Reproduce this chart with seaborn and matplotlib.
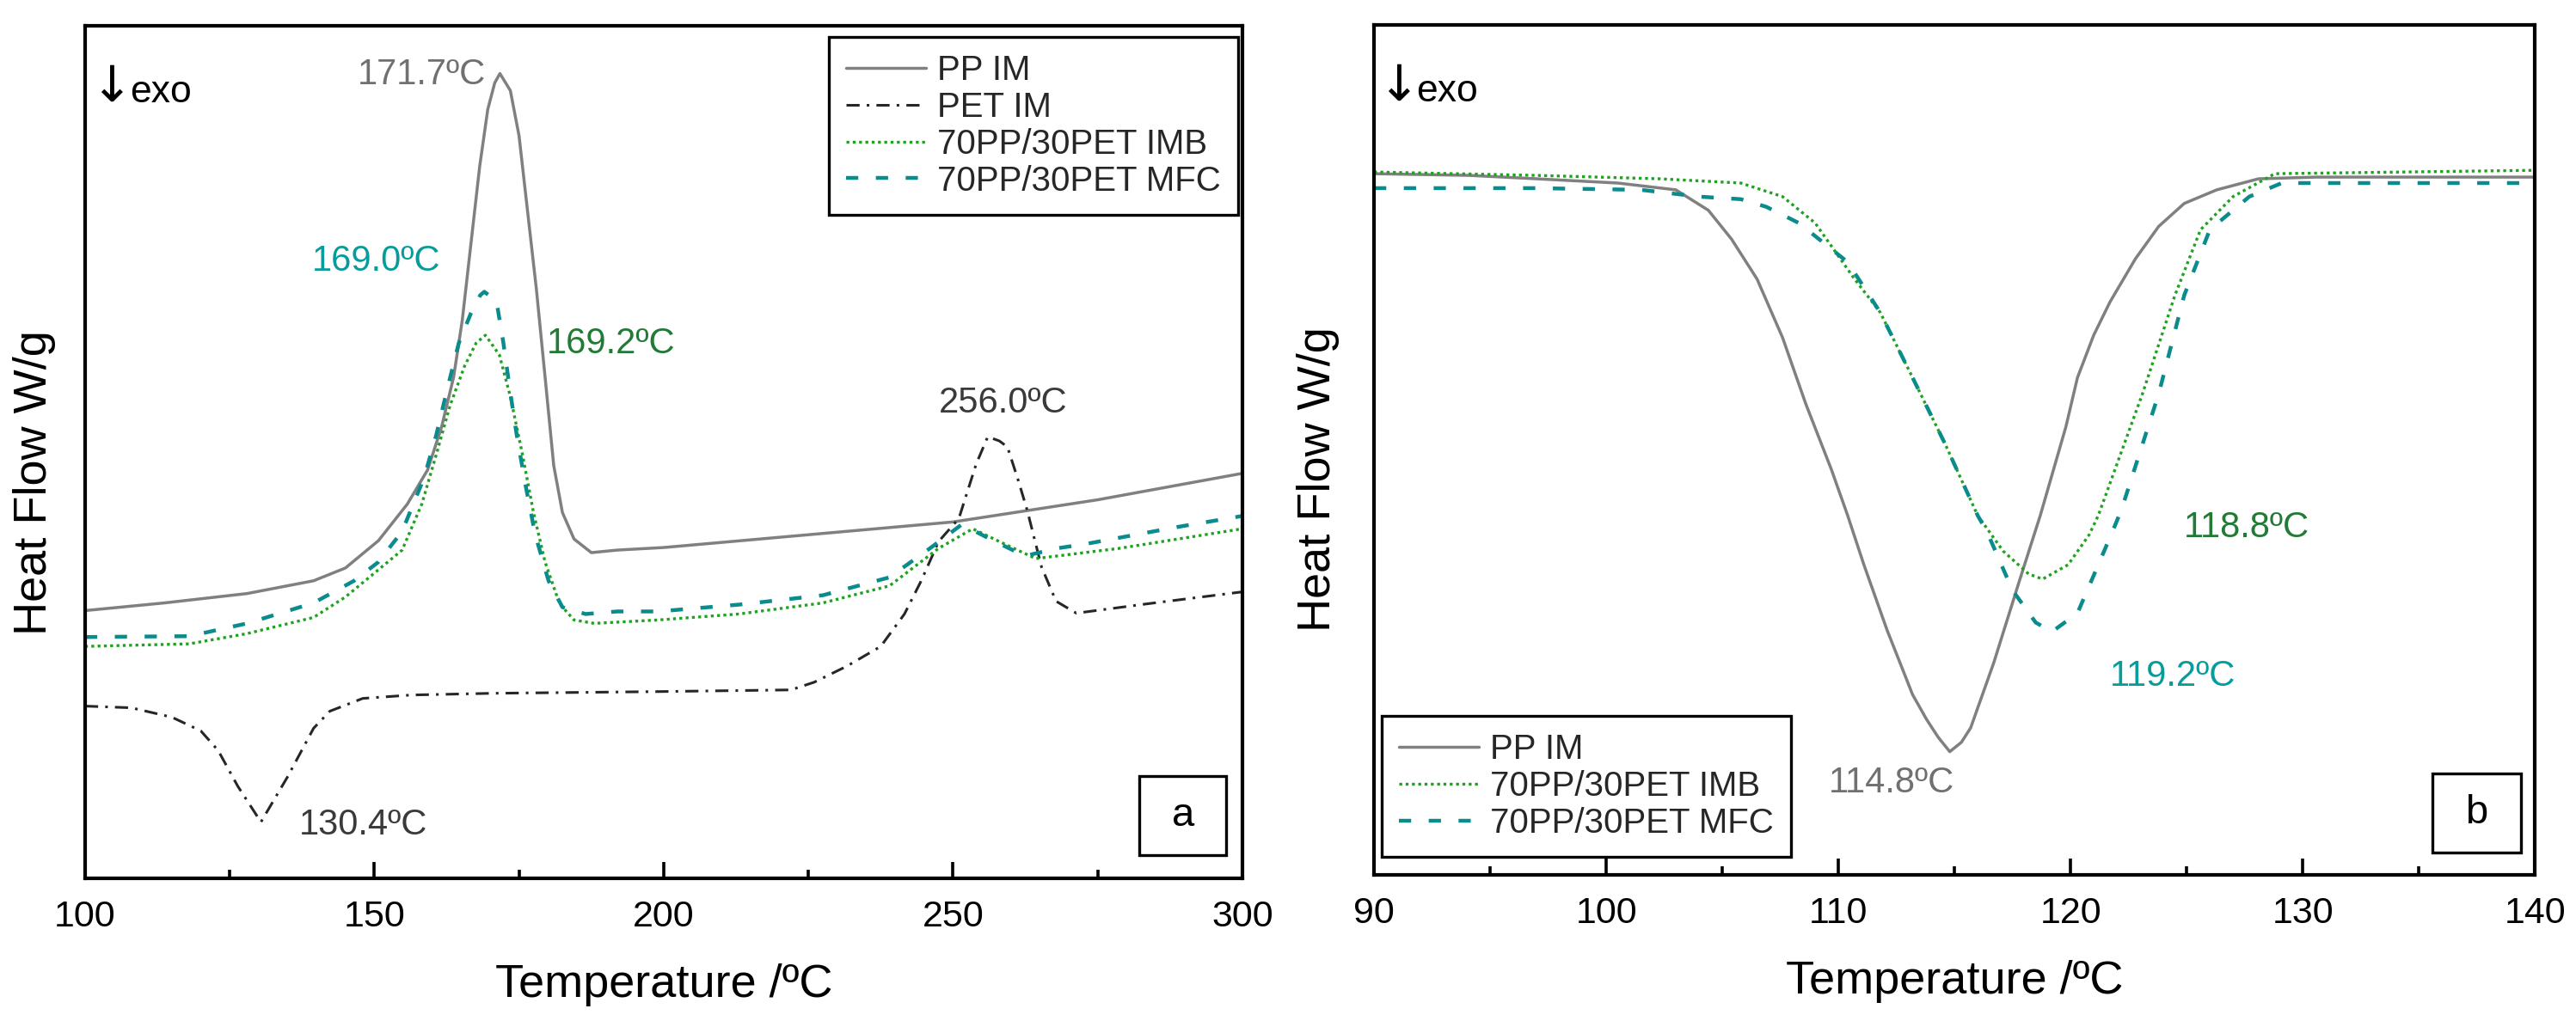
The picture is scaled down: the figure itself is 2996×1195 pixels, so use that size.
import matplotlib
matplotlib.use("Agg")
import matplotlib.pyplot as plt
import matplotlib.patches as mpatches
from matplotlib.ticker import MultipleLocator
import seaborn as sns
import pandas as pd

# ---- panel a: heating scans (arbitrary heat-flow units, exo down) ----
pp_a_t = [100, 113.7, 128, 139.5, 145, 150.7, 155.7, 159.2, 161.6, 163.7, 165.2, 166.7,
          168.2, 169.6, 170.8, 171.7, 173.5, 175.0, 176.5, 178.0, 179.5, 181.0, 182.5,
          184.5, 187.5, 192, 200, 225, 250, 275, 300]
pp_a_v = [31.4, 32.3, 33.4, 34.9, 36.4, 39.6, 43.9, 47.9, 52.9, 58.8, 65.5, 74.5,
          83.5, 90.2, 93.3, 94.4, 92.4, 87.1, 78.1, 69.1, 58.8, 48.4, 42.9,
          39.8, 38.2, 38.5, 38.8, 40.3, 41.8, 44.4, 47.5]

pet_a_t = [100, 108, 115, 120, 123, 126.4, 130.4, 135, 139.5, 142.3, 148, 156.4, 170.4,
           199, 222, 226, 231.7, 237.5, 241.6, 244.5, 247.5, 251, 254, 256, 258,
           259.4, 261.3, 262.8, 265.3, 267.8, 271.3, 283.6, 300]
pet_a_v = [20.2, 20.0, 18.9, 17.3, 15.0, 10.8, 6.6, 11.9, 17.6, 19.6, 21.1, 21.5, 21.7,
           21.9, 22.1, 23.0, 24.9, 27.2, 31.0, 34.9, 39.5, 42.2, 48.6, 51.8, 51.3,
           50.6, 46.6, 43.2, 36.5, 32.5, 31.1, 32.2, 33.6]

imb_a_t = [100, 118, 128, 139.5, 145, 150, 154.8, 158.2, 160.7, 163.1, 165.6, 167.6,
           169.2, 171.6, 173.5, 175.6, 177.5, 179.5, 182.0, 184.5, 188, 199, 213,
           227.5, 239, 247.5, 253.4, 258, 264.3, 278.7, 300]
imb_a_v = [27.2, 27.5, 28.7, 30.6, 33.0, 35.8, 38.5, 43.9, 49.7, 55.5, 60.1, 62.8,
           63.7, 61.4, 56.5, 49.7, 42.9, 37.1, 32.2, 30.3, 29.9, 30.3, 31.0,
           32.3, 34.3, 38.7, 41.0, 39.5, 37.5, 38.7, 41.0]

mfc_a_t = [100, 118, 128, 139.5, 146.5, 150.7, 154.8, 158.6, 160.7, 162.6, 164.6, 166.7,
           168.3, 169.0, 171.1, 172.3, 173.4, 174.6, 176.1, 177.8, 180.1, 182.5, 186.5,
           192, 199, 213, 227.5, 239, 246, 251.5, 256.4, 262.4, 267.9, 272.8, 288.7, 300]
mfc_a_v = [28.3, 28.4, 29.9, 32.3, 34.9, 37.1, 40.7, 47.0, 52.0, 57.4, 62.8, 66.3,
           68.4, 68.8, 67.7, 62.8, 57.4, 52.0, 46.2, 40.3, 34.9, 31.8, 31.0,
           31.3, 31.3, 32.1, 33.2, 35.3, 38.7, 41.5, 39.8, 37.8, 38.7, 39.2, 41.2, 42.5]

# ---- panel b: cooling scans ----
pp_b_t = [90, 94.1, 97, 100.5, 103, 104.4, 105.4, 106.5, 107.6, 108.6, 109.7, 110.4,
          111.1, 112.1, 113.2, 113.8, 114.3, 114.8, 115.3, 115.7, 116.7, 117.8, 118.7,
          119.8, 120.3, 121.0, 121.7, 122.8, 123.8, 124.9, 126.3, 128.1, 130.6, 140]
pp_b_v = [82.5, 82.3, 81.9, 81.4, 80.6, 78.2, 74.8, 70.1, 63.2, 55.4, 47.7, 42.3,
          36.5, 28.8, 21.2, 18.3, 16.2, 14.5, 15.6, 17.3, 25.0, 34.6, 42.3,
          52.7, 58.5, 63.5, 67.4, 72.5, 76.3, 79.0, 80.6, 81.9, 82.1, 82.1]

imb_b_t = [90, 97, 102.3, 105.8, 107.6, 109, 110.7, 111.8, 113.2, 114.6, 116, 117.1,
           118.2, 118.8, 119.9, 120.8, 121.2, 123.1, 124.5, 125.6, 127, 128.8, 140]
imb_b_v = [82.7, 82.3, 81.9, 81.4, 79.8, 76.7, 70.1, 66.2, 58.5, 50.7, 42.3, 38.1,
           35.4, 34.8, 36.5, 40.0, 42.3, 56.6, 68.2, 75.9, 79.8, 82.5, 82.9]

mfc_b_t = [90, 97, 101.5, 104, 105.8, 106.9, 108.3, 110.4, 111.8, 113.2, 114.6, 116,
           116.4, 117.5, 118.5, 119.2, 120.3, 121.2, 121.9, 122.2, 123.8, 124.9, 126,
           127.7, 129.1, 140]
mfc_b_v = [80.8, 80.8, 80.6, 79.8, 79.5, 78.6, 76.7, 72.1, 66.2, 58.5, 50.7, 42.3,
           40.4, 33.5, 29.7, 28.6, 30.8, 36.5, 41.0, 43.0, 56.6, 68.2, 75.9,
           79.8, 81.4, 81.4]

labels = ["PP IM", "PET IM", "70PP/30PET IMB", "70PP/30PET MFC"]

GRAY = "#808080"
BLACK = "#262626"
GREEN = "#1fa21f"
TEAL = "#0a8c8c"

styles = {
    labels[0]: dict(color=GRAY, lw=1.25, linestyle="-"),
    labels[1]: dict(color=BLACK, lw=1.1, linestyle=(0, (5, 2.7, 1, 2.7))),
    labels[2]: dict(color=GREEN, lw=1.2, linestyle=(0, (1, 1.2))),
    labels[3]: dict(color=TEAL, lw=1.6, linestyle=(0, (3.2, 4.6))),
}

sns.set_theme(style="white", rc={
    "xtick.bottom": True, "xtick.direction": "in", "xtick.color": "black",
    "xtick.major.size": 6.8, "xtick.minor.size": 3.5,
    "xtick.major.width": 1.3, "xtick.minor.width": 1.3,
})
plt.rcParams["font.family"] = ["Liberation Sans", "DejaVu Sans"]

fig = plt.figure(figsize=(14.98, 5.975), dpi=200)
ax_a = fig.add_axes([0.0330, 0.1448, 0.4493, 0.8301])
ax_b = fig.add_axes([0.5334, 0.1481, 0.4506, 0.8276])

panel_a = [(pp_a_t, pp_a_v, labels[0]), (pet_a_t, pet_a_v, labels[1]),
           (imb_a_t, imb_a_v, labels[2]), (mfc_a_t, mfc_a_v, labels[3])]
panel_b = [(pp_b_t, pp_b_v, labels[0]), (imb_b_t, imb_b_v, labels[2]),
           (mfc_b_t, mfc_b_v, labels[3])]

for ax, series in [(ax_a, panel_a), (ax_b, panel_b)]:
    for t, v, name in series:
        df = pd.DataFrame({"T": t, "v": v})
        sns.lineplot(data=df, x="T", y="v", ax=ax, label=name, estimator=None,
                     sort=False, **styles[name])

# axes formatting
for ax, (x0, x1, major, minor) in [(ax_a, (100, 300, 50, 25)), (ax_b, (90, 140, 10, 5))]:
    ax.set_xlim(x0, x1)
    ax.set_ylim(0, 100)
    ax.xaxis.set_major_locator(MultipleLocator(major))
    ax.xaxis.set_minor_locator(MultipleLocator(minor))
    ax.set_yticks([])
    ax.tick_params(axis="x", which="both", direction="in", bottom=True, top=False,
                   labelsize=15.5, pad=9, color="black", labelcolor="black")
    ax.tick_params(axis="x", which="major", length=6.8, width=1.3)
    ax.tick_params(axis="x", which="minor", length=3.5, width=1.3)
    for s in ax.spines.values():
        s.set_visible(True)
        s.set_color("black")
        s.set_linewidth(1.5)
    ax.set_xlabel("Temperature /ºC", fontsize=19.5, color="black")
    ax.set_ylabel("Heat Flow W/g", fontsize=19.5, color="black")
    ax.xaxis.set_label_coords(0.5, -0.100)

ax_a.yaxis.set_label_coords(-0.025, 0.464)
ax_b.yaxis.set_label_coords(-0.030, 0.466)

# legends
leg_kw = dict(fontsize=14.5, frameon=True, fancybox=False, framealpha=1, edgecolor="black",
              handlelength=2.3, handletextpad=0.32, labelspacing=0.12, borderpad=0.5,
              borderaxespad=0)
la = ax_a.legend(loc="upper right", bbox_to_anchor=(0.9963, 0.987), **leg_kw)
lb = ax_b.legend(loc="lower left", bbox_to_anchor=(0.0067, 0.021), **leg_kw)
for lg in (la, lb):
    lg.get_frame().set_linewidth(1.2)

# peak annotations
ann = 15
ax_a.text(158.2, 94.3, "171.7ºC", color="#707070", fontsize=ann, ha="center", va="center")
ax_a.text(150.4, 72.4, "169.0ºC", color="#079c9c", fontsize=ann, ha="center", va="center")
ax_a.text(190.9, 62.7, "169.2ºC", color="#217a35", fontsize=ann, ha="center", va="center")
ax_a.text(258.6, 55.7, "256.0ºC", color="#3a3a3a", fontsize=ann, ha="center", va="center")
ax_a.text(148.1, 6.2, "130.4ºC", color="#3a3a3a", fontsize=ann, ha="center", va="center")

ax_b.text(127.6, 40.9, "118.8ºC", color="#217a35", fontsize=ann, ha="center", va="center")
ax_b.text(124.4, 23.4, "119.2ºC", color="#079c9c", fontsize=ann, ha="center", va="center")
ax_b.text(112.3, 10.8, "114.8ºC", color="#707070", fontsize=ann, ha="center", va="center")

# "exo down" marks
for ax, xa, xe in [(ax_a, 104.6, 107.7), (ax_b, 91.05, 91.8)]:
    ax.text(xa, 92.8, "↓", fontsize=21, family="DejaVu Sans", color="black",
            ha="center", va="center")
    ax.text(xe, 91.0, "exo", fontsize=16, color="black", ha="left", va="baseline")

# panel letters in boxes
for ax, letter, (bx0, by0, bx1, by1) in [(ax_a, "a", (0.911, 0.027, 0.986, 0.120)),
                                         (ax_b, "b", (0.912, 0.026, 0.988, 0.119))]:
    ax.add_patch(mpatches.Rectangle((bx0, by0), bx1 - bx0, by1 - by0, transform=ax.transAxes,
                                    fill=False, edgecolor="black", lw=1.2, zorder=5))
    ax.text((bx0 + bx1) / 2, (by0 + by1) / 2, letter, transform=ax.transAxes,
            fontsize=17, ha="center", va="center", color="black")

fig.savefig("out.png", dpi=200)
